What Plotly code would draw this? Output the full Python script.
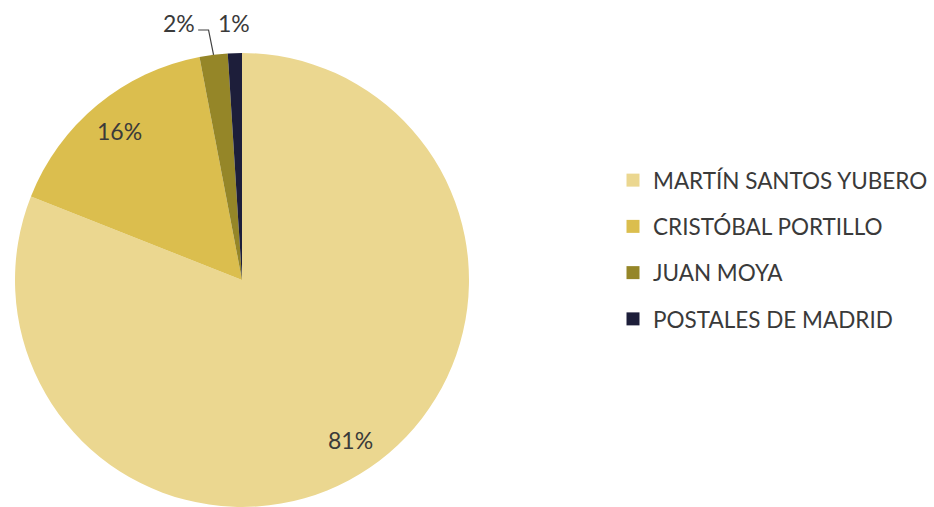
import math
import plotly.graph_objects as go

# Shares per photographer / publisher
labels = ["MARTÍN SANTOS YUBERO", "CRISTÓBAL PORTILLO", "JUAN MOYA", "POSTALES DE MADRID"]
values = [81, 16, 2, 1]
colors = ["#ebd790", "#dbbe4e", "#958628", "#1d1e3a"]

W, H = 934, 507
FONT = "Lato"
TXT = "#3a3a3a"

# Pie placement (pixels): domain chosen so the circle sits at (cx, cy) with radius R
top = 53
dom_h = H - top
dom_w = 484
cx, cy = dom_w / 2, top + dom_h / 2
R = min(dom_w, dom_h) / 2

fig = go.Figure()
fig.add_trace(go.Pie(
    labels=labels, values=values, sort=False, direction="clockwise", rotation=0,
    marker=dict(colors=colors, line=dict(width=0)),
    textinfo="none", hoverinfo="label+percent", showlegend=False,
    domain=dict(x=[0, dom_w / W], y=[0, dom_h / H]),
))

def px2paper(x, y):
    return x / W, 1 - y / H

total = sum(values)
annotations = []
shapes = []
start = 0.0
for lab, v in zip(labels, values):
    frac = v / total
    mid = (start + frac / 2) * 2 * math.pi
    start += frac
    pct = f"{round(frac * 100)}%"
    sx, sy = math.sin(mid), -math.cos(mid)
    if frac >= 0.05:
        x, y = cx + 0.85 * R * sx, cy + 0.85 * R * sy
    else:
        # small slices: label above the rim
        x, y = cx + 1.12 * R * sx, cy - R - 30
        if frac > 0.015:
            # shifted left with an elbow leader line back to the rim
            x -= 31
            rx, ry = cx + R * sx, cy + R * sy
            x0, y0 = px2paper(x + 19, y + 7)
            x1, y1 = px2paper(rx - 5, y + 7)
            x2, y2 = px2paper(rx, ry)
            shapes.append(dict(type="path", xref="paper", yref="paper",
                               path=f"M {x0},{y0} L {x1},{y1} L {x2},{y2}",
                               line=dict(color="#404040", width=1.2)))
    ax, ay = px2paper(x, y)
    annotations.append(dict(x=ax, y=ay, xref="paper", yref="paper", text=pct,
                            showarrow=False, xanchor="center", yanchor="middle",
                            font=dict(family=FONT, size=23, color=TXT)))

# Legend entries as square markers, one group each for spacing
for i, (lab, c) in enumerate(zip(labels, colors)):
    fig.add_trace(go.Scatter(x=[None], y=[None], mode="markers", name=lab,
                             legendgroup=f"g{i}",
                             marker=dict(symbol="square", size=13, color=c)))

fig.update_layout(
    width=W, height=H, margin=dict(l=0, r=0, t=0, b=0, autoexpand=False),
    paper_bgcolor="white", plot_bgcolor="white",
    xaxis=dict(visible=False), yaxis=dict(visible=False),
    annotations=annotations, shapes=shapes,
    legend=dict(x=613 / W, y=1 - 159 / H, xanchor="left", yanchor="top",
                font=dict(family=FONT, size=22.5, color=TXT),
                tracegroupgap=14, bgcolor="rgba(0,0,0,0)"),
)

fig.write_html("out.html")
